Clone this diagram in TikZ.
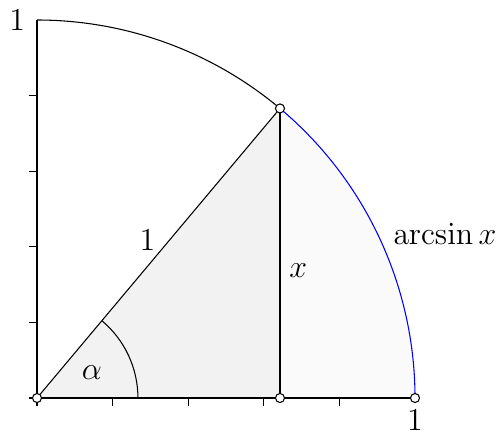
\documentclass[tikz,border=0pt]{standalone}
\usepackage{tikz}
\begin{document}
\begin{tikzpicture}[
  x=5cm,y=5cm,
  every node/.style={font=\fontsize{11.5}{14}\selectfont},
  dot/.style={circle,draw,fill=white,inner sep=0pt,minimum size=3.4pt},
  axis/.style={line width=0.6pt}
]
\useasboundingbox (-0.0979,-0.0847) rectangle (1.2275,1.0529);
\coordinate (O) at (0,0);
\coordinate (P) at (50:1);
\coordinate (F) at ({cos(50)},0);
\coordinate (A) at (1,0);
\coordinate (T) at (0,1);
% shaded regions
\fill[black!5] (O) -- (P) -- (F) -- cycle;
\fill[black!2] (F) -- (P) arc[start angle=50,end angle=0,radius=1] -- cycle;
% ticks
\foreach \t in {0,0.2,0.4,0.6,0.8} {
  \draw (\t,0) -- ++(0,-0.02);
  \draw (0,\t) -- ++(-0.02,0);
}
\draw[axis] (O) -- (A);
\draw[axis] (O) -- (T);
\draw (T) arc[start angle=90,end angle=50,radius=1];
\draw[blue] (P) arc[start angle=50,end angle=0,radius=1];
\draw (O) -- node[pos=0.5,anchor=south east,inner sep=1pt] (hyp) {$1$} (P);
\draw (P) -- node[pos=0.56,right] (xlbl) {$x$} (F);
\draw (0.267,0) arc[start angle=0,end angle=50,radius=0.267];
\node (alpha) at (25:0.16) {$\alpha$};
\node[left=1pt] (one y) at (T) {$1$};
\node[below=1pt] (one x) at (A) {$1$};
\node (arc lbl) at (1.079,0.434) {$\arcsin x$};
% points
\node[dot] (o) at (O) {};
\node[dot] (p) at (P) {};
\node[dot] (f) at (F) {};
\node[dot] (a) at (A) {};
\end{tikzpicture}
\end{document}
